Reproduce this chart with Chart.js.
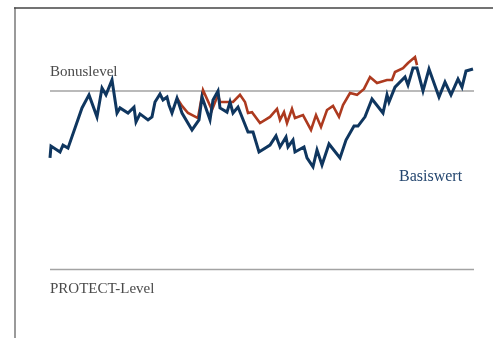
<!DOCTYPE html>
<html>
<head>
<meta charset="utf-8">
<script src="https://cdn.jsdelivr.net/npm/chart.js@4/dist/chart.umd.min.js"></script>
<style>
  html, body { margin: 0; padding: 0; background: #fff; }
  #wrap { width: 493px; height: 338px; }
</style>
</head>
<body>
<div id="wrap"><canvas id="chart" width="493" height="338"></canvas></div>
<script>
// Handelstage seit Emission und Kurs des Basiswerts (in % vom Startniveau)
const days = [0, 1, 10, 13, 18, 32, 39, 47, 52, 56, 62, 67, 70, 78, 84, 86, 90, 98, 102, 105,
    110, 113, 117, 119, 122, 127, 132, 142, 149, 152, 160, 163, 168, 170, 177, 180, 183, 188,
    198, 203, 209, 220, 226, 230, 236, 238, 243, 245, 254, 257, 263, 267, 272, 279, 290, 296,
    304, 308, 315, 322, 333, 337, 339, 345, 355, 358, 363, 367, 373, 379, 389, 395, 401, 408,
    412, 416, 423];
const basiswert = [77.5, 81.5, 79.5, 81.8, 80.8, 94.3, 98.7, 91.3, 101.0, 98.7, 103.7, 92.6,
    94.3, 92.6, 94.6, 89.6, 92.3, 90.3, 91.3, 96.3, 99.0, 97.0, 98.0, 95.3, 92.6, 97.6, 92.6,
    86.9, 90.3, 98.0, 90.3, 97.0, 100.0, 94.3, 92.9, 96.3, 92.6, 94.6, 86.2, 86.2, 79.5, 81.8,
    84.9, 81.2, 84.5, 81.2, 83.5, 79.5, 81.2, 77.5, 74.5, 80.2, 75.1, 82.2, 77.5, 83.5, 88.2,
    88.2, 91.3, 97.3, 92.6, 98.7, 96.3, 101.3, 104.7, 102.0, 107.7, 107.7, 100.0, 107.4, 98.0,
    103.0, 98.7, 104.0, 101.3, 106.7, 107.4];

// Zertifikat ab dem Auseinanderlaufen der Kurven
const zertDays = [127, 132, 138, 148, 153, 162, 168, 170, 177, 183, 190, 195, 198, 202, 210,
    220, 227, 230, 234, 237, 242, 245, 253, 261, 266, 271, 277, 283, 289, 293, 300, 307, 314,
    320, 327, 337, 342, 345, 353, 358, 365, 367];
const zertifikat = [97.6, 95.0, 92.6, 90.9, 100.3, 93.6, 98.7, 96.3, 96.3, 96.3, 98.7, 96.3,
    92.6, 92.9, 89.2, 91.3, 94.0, 90.3, 92.9, 89.2, 94.0, 90.9, 91.9, 86.9, 91.9, 87.9, 93.6,
    95.0, 91.3, 95.3, 99.3, 98.7, 100.7, 104.7, 102.7, 103.7, 103.7, 106.4, 107.7, 109.4,
    111.4, 108.7];

const bonusLevel = 100;
const protectLevel = 40;
const dayRange = [0, 424];

const toPoints = (xs, ys) => xs.map((x, i) => ({ x: x, y: ys[i] }));
const flat = (level) => dayRange.map(x => ({ x: x, y: level }));

const serif = '"Liberation Serif", "DejaVu Serif", serif';

// Rahmen oben/links und Beschriftungen der Schwellen
const decor = {
    id: 'decor',
    beforeDraw(chart) {
        const ctx = chart.ctx;
        ctx.save();
        ctx.lineCap = 'butt';
        ctx.strokeStyle = '#9a9a9a';
        ctx.lineWidth = 2;
        ctx.beginPath();
        ctx.moveTo(15, 7.5);
        ctx.lineTo(15, chart.height);
        ctx.stroke();
        ctx.strokeStyle = '#444';
        ctx.lineWidth = 1.5;
        ctx.beginPath();
        ctx.moveTo(14, 8);
        ctx.lineTo(chart.width, 8);
        ctx.stroke();
        ctx.restore();
    },
    afterDraw(chart) {
        const { ctx, scales: { x, y } } = chart;
        ctx.save();
        ctx.textBaseline = 'alphabetic';
        ctx.font = '15px ' + serif;
        ctx.fillStyle = '#4a4a4a';
        ctx.fillText('Bonuslevel', x.getPixelForValue(0), y.getPixelForValue(bonusLevel) - 15);
        ctx.fillText('PROTECT-Level', x.getPixelForValue(0), y.getPixelForValue(protectLevel) + 23);
        ctx.font = '16px ' + serif;
        ctx.fillStyle = '#24466f';
        ctx.fillText('Basiswert', x.getPixelForValue(349), y.getPixelForValue(69.7));
        ctx.restore();
    }
};

new Chart(document.getElementById('chart'), {
    type: 'line',
    data: {
        datasets: [
            {
                label: 'Basiswert',
                data: toPoints(days, basiswert),
                borderColor: '#0f365f',
                borderWidth: 3,
            },
            {
                label: 'Zertifikat',
                data: toPoints(zertDays, zertifikat),
                borderColor: '#ad3a1f',
                borderWidth: 2.6,
            },
            {
                label: 'Bonuslevel',
                data: flat(bonusLevel),
                borderColor: '#a3a3a3',
                borderWidth: 1.3,
            },
            {
                label: 'PROTECT-Level',
                data: flat(protectLevel),
                borderColor: '#a3a3a3',
                borderWidth: 1.3,
            }
        ].map(d => ({
            ...d,
            tension: 0,
            pointRadius: 0,
            fill: false,
            clip: false,
            borderJoinStyle: 'miter',
        }))
    },
    options: {
        responsive: false,
        animation: false,
        layout: { padding: { left: 50, right: 19, top: 1.75, bottom: 9 } },
        plugins: {
            legend: { display: false },
            tooltip: { enabled: false },
        },
        scales: {
            x: { type: 'linear', min: dayRange[0], max: dayRange[1], display: false },
            y: { min: 20, max: 130, display: false },
        }
    },
    plugins: [decor]
});
</script>
</body>
</html>
